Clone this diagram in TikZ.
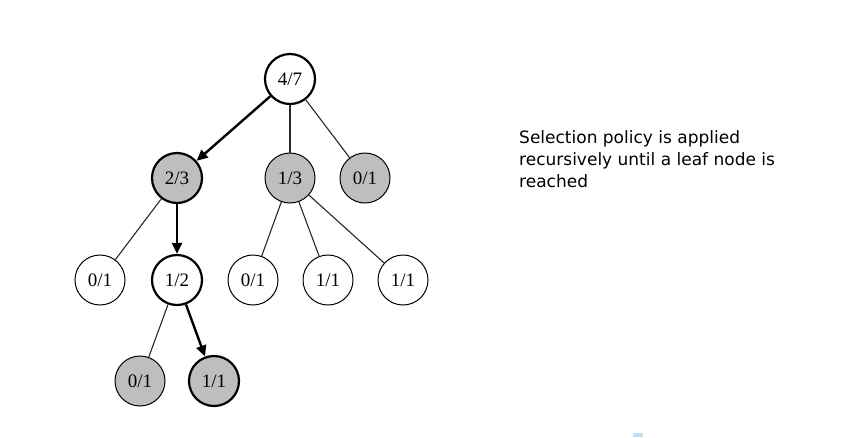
\documentclass[tikz,border=0pt]{standalone}
\usepackage{fontspec}
\setmainfont{Liberation Serif}
\newfontfamily\captionfont{DejaVu Sans}
\usetikzlibrary{arrows.meta}
\definecolor{nodegray}{RGB}{190,190,190}
\definecolor{edgegray}{RGB}{40,40,40}
\definecolor{marksky}{RGB}{190,225,245}
\tikzset{
  treenode/.style={circle, draw=black, line width=1pt, minimum size=50pt, inner sep=0pt, font=\fontsize{19}{19}\selectfont},
  pathnode/.style={treenode, line width=2.2pt},
  shaded/.style={fill=nodegray},
  plain/.style={fill=white},
  thinedge/.style={draw=edgegray, line width=1.1pt},
  pathedge/.style={draw=black, line width=2.4pt, -{Triangle[length=11pt,width=10pt]}},
  captionline/.style={anchor=base west, inner sep=0pt, font=\captionfont\fontsize{17}{22}\selectfont},
}
\begin{document}
\begin{tikzpicture}[x=1pt,y=-1pt]
\useasboundingbox (0,0) rectangle (848,437);
\fill[white] (0,0) rectangle (848,437);
\node[pathnode, plain] (r) at (290,79) {4/7};
\node[pathnode, shaded] (a) at (177,178) {2/3};
\node[treenode, shaded] (b) at (290,178) {1/3};
\node[treenode, shaded] (c) at (365,178) {0/1};
\node[treenode, plain] (a1) at (100,280) {0/1};
\node[pathnode, plain] (a2) at (177,280) {1/2};
\node[treenode, plain] (b1) at (253,280) {0/1};
\node[treenode, plain] (b2) at (328,280) {1/1};
\node[treenode, plain] (b3) at (403,280) {1/1};
\node[treenode, shaded] (d1) at (140,381) {0/1};
\node[pathnode, shaded] (d2) at (214,381) {1/1};
\draw[pathedge] (r) -- (a);
\draw[thinedge] (r) -- (b);
\draw[thinedge] (r) -- (c);
\draw[thinedge] (a) -- (a1);
\draw[pathedge] (a) -- (a2);
\draw[thinedge] (b) -- (b1);
\draw[thinedge] (b) -- (b2);
\draw[thinedge] (b) -- (b3);
\draw[thinedge] (a2) -- (d1);
\draw[pathedge] (a2) -- (d2);
\node[captionline] (cap1) at (519,143) {Selection policy is applied};
\node[captionline] (cap2) at (519,165) {recursively until a leaf node is};
\node[captionline] (cap3) at (519,187) {reached};
\fill[marksky] (633,433) rectangle (643,437);
\end{tikzpicture}
\end{document}
